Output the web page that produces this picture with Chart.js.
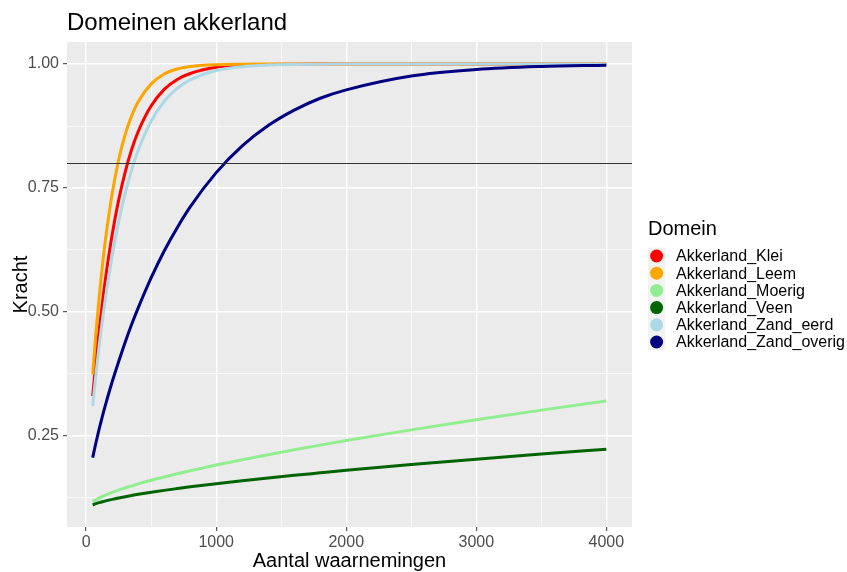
<!DOCTYPE html>
<html>
<head>
<meta charset="utf-8">
<title>Domeinen akkerland</title>
<script src="https://cdn.jsdelivr.net/npm/chart.js@4/dist/chart.umd.min.js"></script>
<style>
  html, body { margin: 0; padding: 0; background: #ffffff; }
  #wrap { width: 847px; height: 572px; }
</style>
</head>
<body>
<div id="wrap"><canvas id="c" width="847" height="572"></canvas></div>
<script>
// Sample sizes (aantal waarnemingen) at which power is evaluated
const sampleSizes = [50, 75, 100, 125, 150, 200, 250, 300, 350, 400, 500, 600, 700, 800,
                     1000, 1200, 1400, 1600, 1800, 2000, 2500, 3000, 3500, 4000];

// Power (kracht) per domain
const kleiPower = [0.330, 0.401, 0.463, 0.519, 0.570, 0.656, 0.726, 0.782, 0.828, 0.864, 0.916, 0.949, 0.969, 0.981,
                   0.9935, 0.9978, 0.9992, 0.9997, 0.9999, 1.0, 1.0, 1.0, 1.0, 1.0];
const leemPower = [0.374, 0.458, 0.530, 0.594, 0.649, 0.739, 0.807, 0.858, 0.896, 0.924, 0.960, 0.980, 0.990, 0.995,
                   0.9987, 0.9997, 0.9999, 1.0, 1.0, 1.0, 1.0, 1.0, 1.0, 1.0];
const moerigPower = [0.117, 0.121, 0.1245, 0.1277, 0.1306, 0.1358, 0.1406, 0.1450, 0.1490, 0.1530, 0.1603, 0.1670, 0.1735, 0.1796,
                     0.1911, 0.2018, 0.2120, 0.2218, 0.2313, 0.2404, 0.2620, 0.2825, 0.3019, 0.3205];
const veenPower = [0.1106, 0.1131, 0.1152, 0.1171, 0.1188, 0.1219, 0.1247, 0.1273, 0.1297, 0.1320, 0.1361, 0.1400, 0.1436, 0.1471,
                   0.1535, 0.1594, 0.1650, 0.1704, 0.1754, 0.1804, 0.1920, 0.2029, 0.2132, 0.2231];
const zandEerdPower = [0.310, 0.374, 0.432, 0.484, 0.531, 0.613, 0.682, 0.739, 0.787, 0.826, 0.885, 0.925, 0.951, 0.968,
                       0.987, 0.9948, 0.9980, 0.9992, 0.9997, 0.9999, 1.0, 1.0, 1.0, 1.0];
const zandOverigPower = [0.206, 0.236, 0.264, 0.290, 0.314, 0.359, 0.400, 0.439, 0.475, 0.508, 0.569, 0.623, 0.670, 0.712,
                         0.781, 0.835, 0.876, 0.907, 0.931, 0.948, 0.976, 0.989, 0.995, 0.9977];

const domainNames = ['Akkerland_Klei', 'Akkerland_Leem', 'Akkerland_Moerig', 'Akkerland_Veen',
                     'Akkerland_Zand_eerd', 'Akkerland_Zand_overig'];
const domainValues = [kleiPower, leemPower, moerigPower, veenPower, zandEerdPower, zandOverigPower];
const domainColors = ['#FF0000', '#FFA500', '#90EE90', '#006400', '#ADD8E6', '#000080'];

// Axis ticks: labelled major breaks and unlabelled minor breaks
const xMajorTicks = [0, 1000, 2000, 3000, 4000];
const xMinorTicks = [500, 1500, 2500, 3500];
const yMajorTicks = [0.25, 0.50, 0.75, 1.00];
const yMinorTicks = [0.125, 0.375, 0.625, 0.875];

// Target power reference line
const targetPower = 0.8;

const FONT = '"Liberation Sans", Arial, Helvetica, sans-serif';
const TEXT_GREY = '#4D4D4D';

function tickObjects(major, minor) {
  return major.concat(minor).sort((a, b) => a - b).map(v => ({ value: v }));
}
function isMajor(list, v) {
  return list.some(m => Math.abs(m - v) < 1e-9);
}

// Panel background, reference line, titles and legend
const ggDecor = {
  id: 'ggDecor',
  beforeDraw(chart) {
    const { ctx, chartArea: a } = chart;
    ctx.save();
    ctx.fillStyle = '#ffffff';
    ctx.fillRect(0, 0, chart.width, chart.height);
    ctx.fillStyle = '#EBEBEB';
    ctx.fillRect(a.left, a.top, a.right - a.left, a.bottom - a.top);
    ctx.restore();
  },
  afterDatasetsDraw(chart) {
    const { ctx, chartArea: a, scales } = chart;
    const y = Math.round(scales.y.getPixelForValue(targetPower)) + 0.5;
    ctx.save();
    ctx.strokeStyle = '#333333';
    ctx.lineWidth = 1.1;
    ctx.beginPath();
    ctx.moveTo(a.left, y);
    ctx.lineTo(a.right, y);
    ctx.stroke();
    ctx.restore();
  },
  afterDraw(chart) {
    const { ctx, chartArea: a } = chart;
    ctx.save();
    // Main title
    ctx.fillStyle = '#000000';
    ctx.font = '24px ' + FONT;
    ctx.textAlign = 'left';
    ctx.textBaseline = 'alphabetic';
    ctx.fillText('Domeinen akkerland', 67, 30);

    // Axis titles
    ctx.font = '20px ' + FONT;
    ctx.textAlign = 'center';
    ctx.fillText('Aantal waarnemingen', (a.left + a.right) / 2, 567);
    ctx.save();
    ctx.translate(27, (a.top + a.bottom) / 2);
    ctx.rotate(-Math.PI / 2);
    ctx.textBaseline = 'alphabetic';
    ctx.fillText('Kracht', 0, 0);
    ctx.restore();

    // Legend
    ctx.textAlign = 'left';
    ctx.textBaseline = 'middle';
    ctx.font = '20px ' + FONT;
    ctx.fillText('Domein', 648, 229);
    const keyX = 648, keySize = 17.2, firstY = 256;
    ctx.font = '16px ' + FONT;
    domainNames.forEach((name, i) => {
      const cy = firstY + i * keySize;
      ctx.fillStyle = '#F2F2F2';
      ctx.fillRect(keyX, cy - keySize / 2, keySize, keySize);
      ctx.fillStyle = domainColors[i];
      ctx.beginPath();
      ctx.arc(keyX + keySize / 2, cy, 6.5, 0, Math.PI * 2);
      ctx.fill();
      ctx.fillStyle = '#000000';
      ctx.fillText(name, 676, cy + 1);
    });
    ctx.restore();
  }
};

const datasets = domainNames.map((name, i) => ({
  label: name,
  data: sampleSizes.map((n, j) => ({ x: n, y: domainValues[i][j] })),
  borderColor: domainColors[i],
  backgroundColor: domainColors[i],
  borderWidth: 3,
  borderCapStyle: 'butt',
  borderJoinStyle: 'round',
  pointRadius: 0,
  pointHoverRadius: 0,
  showLine: true,
  fill: false,
  cubicInterpolationMode: 'monotone',
  order: domainNames.length - i
}));

new Chart(document.getElementById('c'), {
  type: 'scatter',
  data: { datasets },
  options: {
    responsive: false,
    animation: false,
    devicePixelRatio: 1,
    layout: { padding: { top: 42, right: 215, bottom: 0, left: 0 } },
    plugins: {
      legend: { display: false },
      title: { display: false },
      tooltip: { enabled: false }
    },
    scales: {
      x: {
        type: 'linear',
        min: -147.5,
        max: 4197.5,
        afterFit(s) { s.height = 45; },
        afterBuildTicks(s) { s.ticks = tickObjects(xMajorTicks, xMinorTicks); },
        border: { display: false },
        grid: {
          color: '#FFFFFF',
          lineWidth: c => (c.tick && isMajor(xMajorTicks, c.tick.value)) ? 1.4 : 0.7,
          tickColor: c => (c.tick && isMajor(xMajorTicks, c.tick.value)) ? '#333333' : 'rgba(0,0,0,0)',
          tickLength: 4,
          tickWidth: 1
        },
        ticks: {
          autoSkip: false,
          maxRotation: 0,
          padding: 2,
          color: TEXT_GREY,
          font: { family: FONT, size: 16 },
          callback: v => isMajor(xMajorTicks, v) ? String(v) : ''
        }
      },
      y: {
        type: 'linear',
        min: 0.0661,
        max: 1.0445,
        afterFit(s) { s.width = 67; },
        afterBuildTicks(s) { s.ticks = tickObjects(yMajorTicks, yMinorTicks); },
        border: { display: false },
        grid: {
          color: '#FFFFFF',
          lineWidth: c => (c.tick && isMajor(yMajorTicks, c.tick.value)) ? 1.4 : 0.7,
          tickColor: c => (c.tick && isMajor(yMajorTicks, c.tick.value)) ? '#333333' : 'rgba(0,0,0,0)',
          tickLength: 4,
          tickWidth: 1
        },
        ticks: {
          autoSkip: false,
          padding: 4,
          color: TEXT_GREY,
          font: { family: FONT, size: 16 },
          callback: v => isMajor(yMajorTicks, v) ? Number(v).toFixed(2) : ''
        }
      }
    }
  },
  plugins: [ggDecor]
});
</script>
</body>
</html>
